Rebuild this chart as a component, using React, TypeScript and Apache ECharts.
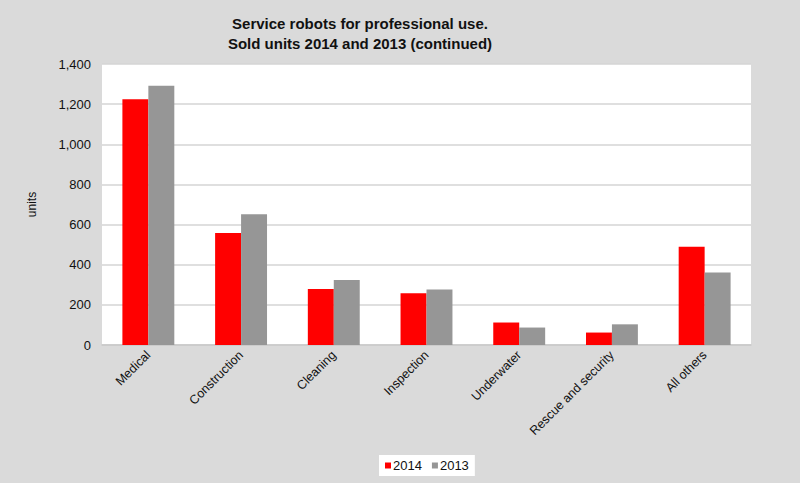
import React, { useEffect, useRef } from "react";
import * as echarts from "echarts";

const categories = ["Medical", "Construction", "Cleaning", "Inspection", "Underwater", "Rescue and security", "All others"];
const units2014 = [1225, 558, 279, 258, 112, 62, 490];
const units2013 = [1292, 651, 324, 277, 87, 103, 361];
const yTicks = [0, 200, 400, 600, 800, 1000, 1200, 1400];

export default function App() {
  const ref = useRef<HTMLDivElement>(null);
  useEffect(() => {
    document.body.style.margin = "0";
    const chart = echarts.init(ref.current!, null, { renderer: "svg" });
    const font = "Liberation Sans, Arial, sans-serif";
    chart.setOption({
      animation: false,
      backgroundColor: "#dadada",
      textStyle: { fontFamily: font },
      title: {
        text: "Service robots for professional use.\nSold units 2014 and 2013 (continued)",
        left: 360,
        top: 13,
        textAlign: "center",
        padding: 0,
        textStyle: { fontSize: 15, fontWeight: "bold", color: "#111", lineHeight: 20, fontFamily: font },
      },
      graphic: [
        { type: "rect", shape: { x: 102, y: 64, width: 649, height: 281 }, style: { fill: "#ffffff" }, z: -10, silent: true },
      ],
      legend: {
        bottom: 7,
        left: 379,
        backgroundColor: "#ffffff",
        padding: [4, 6],
        itemWidth: 6,
        itemHeight: 6,
        itemGap: 10,
        icon: "rect",
        textStyle: { fontSize: 13, color: "#111", padding: [0, 0, 0, -3] },
        data: ["2014", "2013"],
      },
      grid: { left: 102, right: 49, top: 64, bottom: 138, containLabel: false },
      xAxis: {
        type: "category",
        data: categories,
        axisLine: { lineStyle: { color: "#c8c8c8", width: 1.5 } },
        axisTick: { show: false },
        axisLabel: { rotate: 45, fontSize: 12.5, color: "#111", margin: 8, interval: 0 },
      },
      yAxis: {
        type: "value",
        min: 0,
        max: 1400,
        interval: 200,
        name: "units",
        nameLocation: "middle",
        nameRotate: 90,
        nameGap: 64,
        nameTextStyle: { fontSize: 12, color: "#111" },
        axisLine: { show: false },
        axisTick: { show: false },
        axisLabel: {
          fontSize: 13,
          color: "#111",
          margin: 11,
          formatter: (v: number) => (yTicks.includes(v) ? v.toLocaleString("en-US") : ""),
        },
        splitLine: { lineStyle: { color: "#d4d4d4", width: 1.5 } },
      },
      series: [
        { name: "2014", type: "bar", data: units2014, itemStyle: { color: "#ff0000" }, barGap: "0%", barCategoryGap: "44%" },
        { name: "2013", type: "bar", data: units2013, itemStyle: { color: "#969696" }, barGap: "0%", barCategoryGap: "44%" },
      ],
    });
    return () => chart.dispose();
  }, []);
  return <div ref={ref} style={{ width: 800, height: 483 }} />;
}
